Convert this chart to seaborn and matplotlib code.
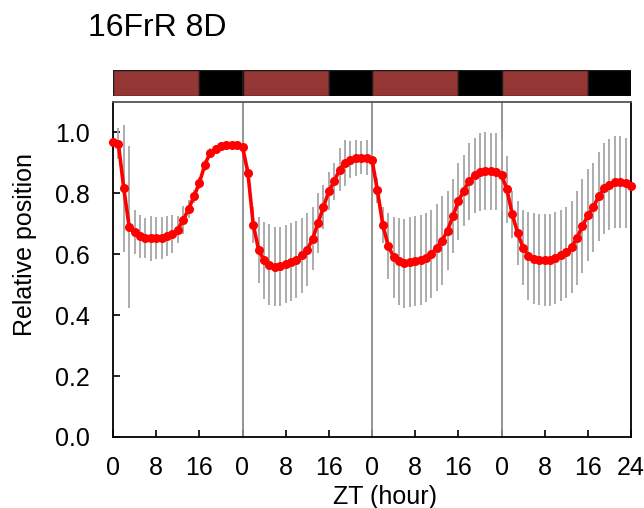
import numpy as np
import pandas as pd
import matplotlib
matplotlib.use("Agg")
import matplotlib.pyplot as plt
import seaborn as sns

# ---- data ----
hours = list(range(0, 97))
mean_pos = [
    # day 1
    0.969, 0.963, 0.816, 0.690, 0.672, 0.659, 0.654, 0.652, 0.653, 0.654, 0.660, 0.667,
    0.681, 0.712, 0.748, 0.790, 0.834, 0.893, 0.933, 0.946, 0.955, 0.958, 0.958, 0.958,
    # day 2
    0.953, 0.868, 0.696, 0.614, 0.580, 0.566, 0.559, 0.560, 0.567, 0.574, 0.582, 0.596,
    0.615, 0.651, 0.703, 0.755, 0.807, 0.840, 0.878, 0.900, 0.911, 0.916, 0.917, 0.917,
    # day 3
    0.910, 0.810, 0.697, 0.628, 0.591, 0.577, 0.571, 0.574, 0.579, 0.582, 0.588, 0.602,
    0.621, 0.645, 0.678, 0.725, 0.774, 0.809, 0.840, 0.860, 0.870, 0.873, 0.873, 0.871,
    # day 4
    0.860, 0.813, 0.731, 0.669, 0.622, 0.594, 0.586, 0.582, 0.580, 0.582, 0.588, 0.596,
    0.606, 0.624, 0.654, 0.692, 0.728, 0.754, 0.790, 0.816, 0.829, 0.837, 0.837, 0.834,
    0.823,
]
sd_pos = [
    0.020, 0.050, 0.208, 0.266, 0.072, 0.070, 0.065, 0.075, 0.070, 0.068, 0.067, 0.063,
    0.045, 0.045, 0.030, 0.022, 0.020, 0.018, 0.016, 0.012, 0.010, 0.010, 0.010, 0.010,
    0.010, 0.020, 0.059, 0.108, 0.127, 0.132, 0.129, 0.129, 0.128, 0.129, 0.126, 0.123,
    0.120, 0.104, 0.099, 0.071, 0.063, 0.061, 0.071, 0.076, 0.062, 0.059, 0.055, 0.057,
    0.030, 0.041, 0.059, 0.108, 0.133, 0.143, 0.146, 0.148, 0.148, 0.148, 0.146, 0.145,
    0.143, 0.147, 0.129, 0.122, 0.126, 0.116, 0.126, 0.123, 0.129, 0.127, 0.126, 0.126,
    0.119, 0.111, 0.077, 0.105, 0.123, 0.145, 0.149, 0.150, 0.151, 0.151, 0.152, 0.151,
    0.150, 0.152, 0.155, 0.154, 0.151, 0.145, 0.145, 0.149, 0.148, 0.150, 0.150, 0.148,
    0.151,
]
x_ticks = [0, 8, 16, 24, 32, 40, 48, 56, 64, 72, 80, 88, 96]
x_tick_labels = ["0", "8", "16", "0", "8", "16", "0", "8", "16", "0", "8", "16", "24"]
y_ticks = [0.0, 0.2, 0.4, 0.6, 0.8, 1.0]
day_starts = [24, 48, 72]
# light / dark schedule (start hour, duration, phase)
ld_start = [0, 16, 24, 40, 48, 64, 72, 88]
ld_length = [16, 8, 16, 8, 16, 8, 16, 8]
ld_phase = ["light", "dark", "light", "dark", "light", "dark", "light", "dark"]

title_text = "16FrR 8D"
x_label = "ZT (hour)"
y_label = "Relative position"

# ---- style ----
sns.set_style("white")
plt.rcParams["font.family"] = ["Liberation Sans", "DejaVu Sans"]
plt.rcParams["text.color"] = "black"
plt.rcParams["xtick.color"] = "black"
plt.rcParams["ytick.color"] = "black"
plt.rcParams["xtick.labelcolor"] = "black"
plt.rcParams["ytick.labelcolor"] = "black"

df = pd.DataFrame({"t": hours, "mean": mean_pos, "sd": sd_pos})

fig = plt.figure(figsize=(6.44, 5.08), dpi=100)
ax = fig.add_axes([113 / 644, 1 - 437 / 508, (631 - 113) / 644, (437 - 102) / 508])
ax_ld = fig.add_axes([113 / 644, 1 - 96 / 508, (631 - 113) / 644, 26 / 508])

# error bars
ax.errorbar(df["t"], df["mean"], yerr=df["sd"], fmt="none", ecolor="#a6a6a6",
            elinewidth=1.3, capsize=0, zorder=2)
# day boundary lines
for d in day_starts:
    ax.axvline(d, color="#8c8c8c", lw=1.3, zorder=1)

sns.lineplot(data=df, x="t", y="mean", ax=ax, color="#ff0000", lw=2.6,
             marker="o", markersize=6.5, markeredgewidth=0, zorder=3)
for ln in ax.lines:
    ln.set_clip_on(False)

ax.set_xlim(0, 96)
ax.set_ylim(0, 1.1)
ax.set_xticks(x_ticks)
ax.set_xticklabels(x_tick_labels)
ax.set_yticks(y_ticks)
ax.set_yticklabels([f"{v:.1f}" for v in y_ticks])
ax.tick_params(axis="both", direction="in", length=5, width=1.2, labelsize=18,
               color="black", labelcolor="black", left=True, bottom=True)
ax.tick_params(axis="x", pad=14)
ax.tick_params(axis="y", pad=17)
ax.set_xlabel("")
ax.set_ylabel("")
for s in ax.spines.values():
    s.set_visible(True)
    s.set_color("black")
    s.set_linewidth(1.3)
ax.spines["top"].set_color("#555555")

# light/dark bar
colors = ["#943634" if p == "light" else "#000000" for p in ld_phase]
ax_ld.barh([0] * len(ld_start), ld_length, left=ld_start, height=1.0,
           color=colors, edgecolor="#1a1a1a", linewidth=1.0)
ax_ld.set_xlim(0, 96)
ax_ld.set_ylim(-0.5, 0.5)
ax_ld.axis("off")

fig.text(88 / 644, 1 - 28 / 508, title_text, fontsize=23, ha="left", va="center",
         color="black")
fig.text(385 / 644, 1 - 497 / 508, x_label, fontsize=18, ha="center", va="center",
         color="black")
fig.text(25 / 644, 1 - 245 / 508, y_label, fontsize=18, ha="center", va="center",
         rotation=90, color="black")

fig.savefig("out.png", dpi=100)
